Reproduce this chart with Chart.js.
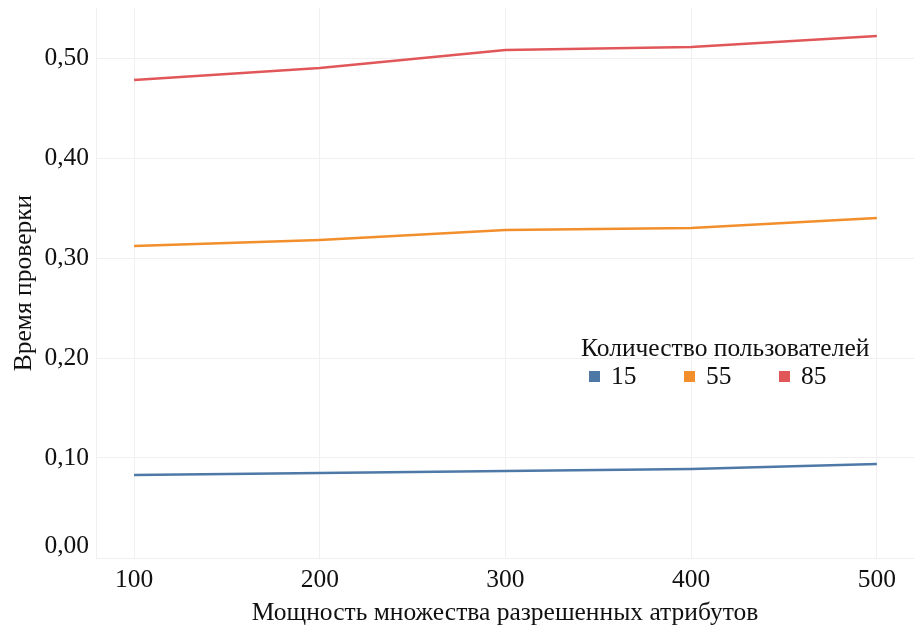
<!DOCTYPE html>
<html>
<head>
<meta charset="utf-8">
<script src="https://cdn.jsdelivr.net/npm/chart.js@4/dist/chart.umd.min.js"></script>
<style>
  html, body { margin: 0; padding: 0; background: #fff; }
  #wrap { position: relative; width: 917px; height: 630px; }
  #legend {
    position: absolute; left: 581px; top: 333px;
    font-family: "Liberation Serif", serif; font-size: 25.5px; color: #111;
  }
  #legend .title { line-height: 29px; }
  #legend .items { display: flex; line-height: 28px; }
  #legend .item { display: flex; align-items: center; width: 95px; }
  #legend .box { width: 11px; height: 11px; margin-left: 8px; margin-right: 11px; }
</style>
</head>
<body>
<div id="wrap">
  <canvas id="chart" width="917" height="630"></canvas>
  <div id="legend"></div>
</div>
<script>
const attributes = [100, 200, 300, 400, 500];
const users = ['15', '55', '85'];
const time15 = [0.083, 0.085, 0.087, 0.089, 0.094];
const time55 = [0.312, 0.318, 0.328, 0.330, 0.340];
const time85 = [0.478, 0.490, 0.508, 0.511, 0.522];
const xTicks = [100, 200, 300, 400, 500];
const yTicks = [0, 0.1, 0.2, 0.3, 0.4, 0.5];

const COLORS = ['#4e79a7', '#f28e2b', '#e15759'];
const FONT = '"Liberation Serif", "Times New Roman", serif';
const FONT_SIZE = 25.5;
const GRID = '#f0f0f0';
const TEXT = '#111';

const series = [time15, time55, time85];
const datasets = series.map((vals, i) => ({
  label: users[i],
  data: attributes.map((x, j) => ({ x: x, y: vals[j] })),
  borderColor: COLORS[i],
  backgroundColor: COLORS[i],
  borderWidth: 2.5,
  pointRadius: 0,
  tension: 0,
}));

const fmt = (v) => v.toFixed(2).replace('.', ',');

const chart = new Chart(document.getElementById('chart'), {
  type: 'line',
  data: { datasets },
  options: {
    responsive: false,
    animation: false,
    layout: { padding: { top: 8, right: 3, left: 0, bottom: 0 } },
    plugins: { legend: { display: false }, tooltip: { enabled: false } },
    scales: {
      x: {
        type: 'linear',
        min: 79.5,
        max: 520,
        afterBuildTicks: (scale) => { scale.ticks = xTicks.map((v) => ({ value: v })); },
        afterFit: (scale) => { scale.height = 72; scale.paddingLeft = 0; scale.paddingRight = 0; },
        grid: { color: GRID, lineWidth: 1, drawTicks: false },
        border: { display: false },
        ticks: { color: TEXT, font: { family: FONT, size: FONT_SIZE }, padding: 7, maxRotation: 0 },
        title: {
          display: true,
          text: 'Мощность множества разрешенных атрибутов',
          color: TEXT,
          font: { family: FONT, size: FONT_SIZE },
          padding: { top: 0, bottom: 1 },
        },
      },
      y: {
        min: 0,
        max: 0.55,
        afterBuildTicks: (scale) => { scale.ticks = yTicks.map((v) => ({ value: v })); },
        afterFit: (scale) => { scale.width = 96; scale.paddingTop = 0; scale.paddingBottom = 0; },
        grid: { color: GRID, lineWidth: 1, drawTicks: false },
        border: { display: true, color: GRID },
        ticks: {
          color: TEXT,
          font: { family: FONT, size: FONT_SIZE, lineHeight: 0.9 },
          padding: 7,
          // the zero label sits a little above its gridline, as in the original
          callback: (v) => (v === 0 ? [fmt(v), ''] : fmt(v)),
        },
        title: {
          display: true,
          text: 'Время проверки',
          color: TEXT,
          font: { family: FONT, size: FONT_SIZE },
          padding: { top: 9, bottom: 0 },
        },
      },
    },
  },
});

// legend inside the plot, built from the datasets
const legendEl = document.getElementById('legend');
legendEl.innerHTML = '<div class="title">Количество пользователей</div><div class="items">' +
  chart.data.datasets.map((d) =>
    `<div class="item"><span class="box" style="background:${d.borderColor}"></span>${d.label}</div>`
  ).join('') + '</div>';
</script>
</body>
</html>
